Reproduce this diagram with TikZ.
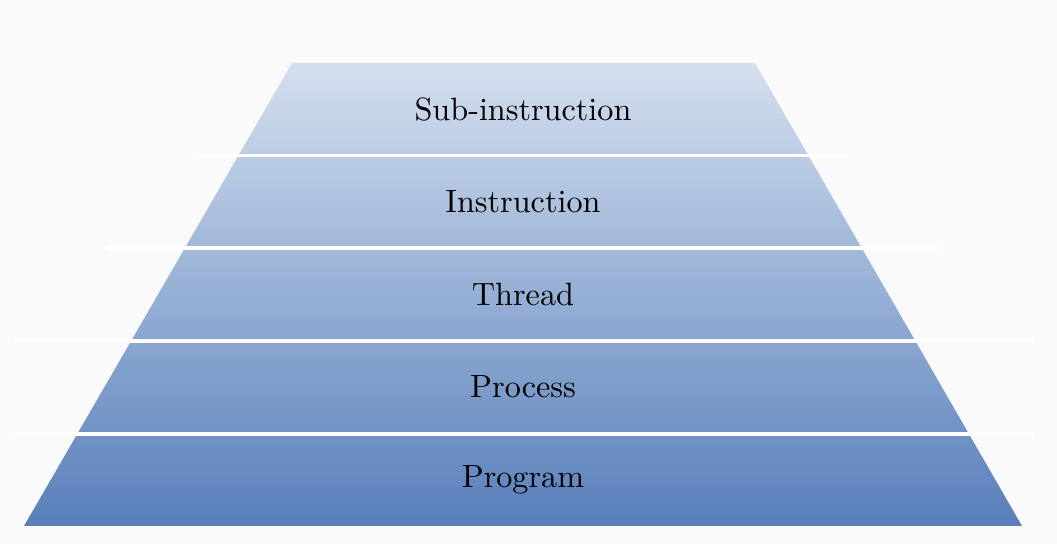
\documentclass[tikz,border=0pt]{standalone}
\definecolor{bgc}{RGB}{250,250,250}
\definecolor{topc}{RGB}{212,223,238}
\definecolor{botc}{RGB}{88,127,187}
\begin{document}
\begin{tikzpicture}[x=0.010917cm,y=-0.010917cm,
  sep/.style={white,line width=1.1pt},
  lbl/.style={font=\normalsize,inner sep=0pt}]
\fill[bgc] (0,0) rectangle (1057,544);
\useasboundingbox (0,0) rectangle (1057,544);
\shade[top color=topc,bottom color=botc] (24,526) -- (1022,526) -- (755,63) -- (292,63) -- cycle;
\coordinate (l1a) at (199,155.6); \coordinate (l1b) at (848,155.6);
\coordinate (l2a) at (106,248.2); \coordinate (l2b) at (940,248.2);
\coordinate (l3a) at (14,340.8); \coordinate (l3b) at (1033,340.8);
\coordinate (l4a) at (14,433.8); \coordinate (l4b) at (1033,433.8);
\draw[sep] (l1a) -- (l1b);
\draw[sep] (l2a) -- (l2b);
\draw[sep] (l3a) -- (l3b);
\draw[sep] (l4a) -- (l4b);
\node[lbl] (sub) at (523,109.3) {Sub-instruction};
\node[lbl] (ins) at (523,201.9) {Instruction};
\node[lbl] (thr) at (523,294.5) {Thread};
\node[lbl] (pro) at (523,387.1) {Process};
\node[lbl] (prg) at (523,479.7) {Program};
\end{tikzpicture}
\end{document}
